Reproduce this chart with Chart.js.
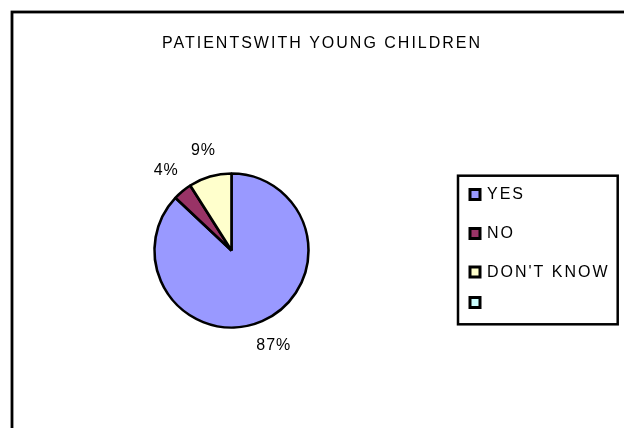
<!DOCTYPE html>
<html>
<head>
<meta charset="utf-8">
<script src="https://cdn.jsdelivr.net/npm/chart.js@4"></script>
<style>
  html, body { margin: 0; padding: 0; background: #fff; }
  canvas { display: block; }
</style>
</head>
<body>
<canvas id="pieChart" width="624" height="428"></canvas>
<script>
// chart data
const chartTitle = "PATIENTSWITH YOUNG CHILDREN";
const categories = ["YES", "NO", "DON'T KNOW", ""];
const percentages = [87, 4, 9, 0];
const sliceColors = ["#9999FF", "#993366", "#FFFFCC", "#CCFFFF"];

const FONT = '"Liberation Sans", Arial, sans-serif';

// outer frame + title
const framePlugin = {
    id: "frame",
    beforeDraw(chart) {
        const ctx = chart.ctx;
        ctx.save();
        ctx.fillStyle = "#fff";
        ctx.fillRect(0, 0, chart.width, chart.height);
        ctx.strokeStyle = "#000";
        ctx.lineWidth = 2.8;
        ctx.strokeRect(12, 12, 700, 700);

        ctx.fillStyle = "#000";
        ctx.font = "16px " + FONT;
        ctx.letterSpacing = "2px";
        ctx.textAlign = "left";
        ctx.textBaseline = "alphabetic";
        ctx.fillText(chartTitle, 162, 48);
        ctx.restore();
    }
};

// percent labels outside each slice
const pctLabelPlugin = {
    id: "pctLabels",
    afterDatasetsDraw(chart) {
        const ctx = chart.ctx;
        const meta = chart.getDatasetMeta(0);
        ctx.save();
        ctx.fillStyle = "#000";
        ctx.font = "16px " + FONT;
        ctx.letterSpacing = "1px";
        ctx.textAlign = "center";
        ctx.textBaseline = "middle";
        meta.data.forEach((arc, i) => {
            if (!percentages[i]) return;
            const p = arc.getProps(["x", "y", "startAngle", "endAngle", "outerRadius"], true);
            const mid = (p.startAngle + p.endAngle) / 2;
            const dist = p.outerRadius + 27;
            ctx.fillText(percentages[i] + "%", p.x + Math.cos(mid) * dist + 1, p.y + Math.sin(mid) * dist);
        });
        ctx.restore();
    }
};

// legend box on the right
const legendRows = [194.5, 233.5, 272, 302.5];
const boxLegendPlugin = {
    id: "boxLegend",
    afterDraw(chart) {
        const ctx = chart.ctx;
        ctx.save();
        ctx.strokeStyle = "#000";
        ctx.lineWidth = 2.5;
        ctx.strokeRect(458, 175.7, 159.7, 148.6);

        ctx.font = "16px " + FONT;
        ctx.letterSpacing = "2px";
        ctx.textAlign = "left";
        ctx.textBaseline = "middle";
        categories.forEach((label, i) => {
            const cy = legendRows[i];
            ctx.fillStyle = "#000";
            ctx.fillRect(468.5, cy - 6.5, 13, 13);
            ctx.fillStyle = sliceColors[i];
            ctx.fillRect(471.5, cy - 3.5, 7, 7);
            ctx.fillStyle = "#000";
            ctx.fillText(label, 487, cy + 0.5);
        });
        ctx.restore();
    }
};

new Chart(document.getElementById("pieChart"), {
    type: "pie",
    data: {
        labels: categories,
        datasets: [{
            data: percentages,
            backgroundColor: sliceColors,
            borderColor: "#000",
            borderWidth: 2.6
        }]
    },
    options: {
        responsive: false,
        animation: false,
        radius: 77,
        layout: { padding: { left: 151, right: 312, top: 170, bottom: 97 } },
        plugins: {
            legend: { display: false },
            title: { display: false },
            tooltip: { enabled: false }
        }
    },
    plugins: [framePlugin, pctLabelPlugin, boxLegendPlugin]
});
</script>
</body>
</html>
